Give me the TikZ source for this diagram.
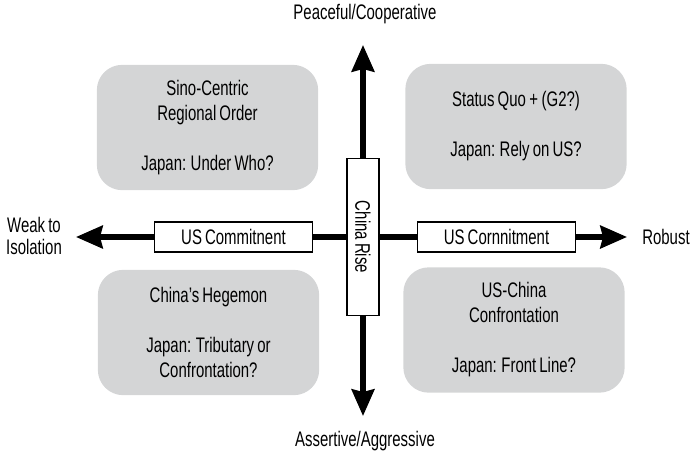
\documentclass[tikz,border=0pt]{standalone}
\usepackage{fontspec}
\setmainfont{Liberation Sans}[FakeStretch=0.71, WordSpace=0.75]
\usetikzlibrary{arrows.meta}
\definecolor{scengrey}{RGB}{212,213,214}

\begin{document}
\begin{tikzpicture}[x=0.75pt, y=-0.75pt,
    font=\fontsize{15.8}{18.75}\selectfont,
    scenario/.style={fill=scengrey, rounded corners=19pt, minimum width=166pt,
        minimum height=94pt, align=center, inner sep=0pt},
    axislabel/.style={draw, fill=white, line width=0.9pt, inner sep=0pt},
    axisline/.style={line width=3.8pt},
    axisarrow/.style={axisline, -{Stealth[length=20pt, width=17pt, inset=2pt]}}]
    % Fix the page size
    \useasboundingbox (0,0) rectangle (691,461);

    % Scenario boxes
    \node[scenario] (sino) at (207.5,127.5) {Sino-Centric\\Regional Order\\[18.75pt]Japan: Under Who?};
    \node[scenario] (quo) at (516,126.5) {Status Quo\,+\,(G2?)\\[18.75pt]Japan: Rely on US?};
    \node[scenario] (hegemon) at (208.5,332.5) {China’s Hegemon\\[18.75pt]Japan: Tributary or\\Confrontation?};
    \node[scenario] (confront) at (514,330) {US-China\\Confrontation\\[18.75pt]Japan: Front Line?};

    % Axis labels on the arrows
    \node[axislabel, minimum width=24pt, minimum height=118pt] (rise) at (363,237) {\rotatebox{-90}{China Rise}};
    \node[axislabel, minimum width=118pt, minimum height=22.5pt] (usl) at (233.5,237) {US Commitnent};
    \node[axislabel, minimum width=118pt, minimum height=22.5pt] (usr) at (496.5,237) {US Cornnitment};

    % Arrow ends
    \coordinate (ptop) at (363,45);
    \coordinate (pbot) at (363,416);
    \coordinate (pleft) at (76,237);
    \coordinate (pright) at (627,237);

    % Axes
    \draw[axisarrow] (rise.north) -- (ptop);
    \draw[axisarrow] (rise.south) -- (pbot);
    \draw[axisline] (usl.east) -- (rise.west);
    \draw[axisline] (rise.east) -- (usr.west);
    \draw[axisarrow] (usl.west) -- (pleft);
    \draw[axisarrow] (usr.east) -- (pright);

    % End labels
    \node (peace) at (365,14) {Peaceful/Cooperative};
    \node (assert) at (365,441) {Assertive/Aggressive};
    \node[align=center, font=\fontsize{15.8}{16.5}\selectfont] (weak) at (34,236) {Weak to\\Isolation};
    \node[anchor=west, inner sep=0pt] (robust) at (642,237) {Robust};
\end{tikzpicture}
\end{document}
